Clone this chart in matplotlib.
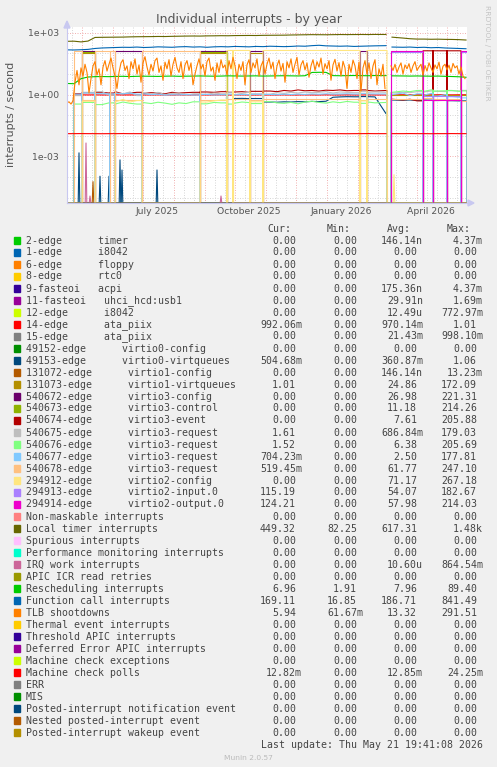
import numpy as np
import pandas as pd
import matplotlib
matplotlib.use("Agg")
import matplotlib.pyplot as plt
from matplotlib.patches import Rectangle, Polygon
from matplotlib.ticker import FixedLocator, NullFormatter

B = None      # use the weekly base values in this interval
G = np.nan    # no data (gap)

# ---- time base: days since 2025-04-16, 400 days shown ----
start = pd.Timestamp("2025-04-16")
n_days = 400
week_days = np.r_[np.arange(0, 315, 7), [319, 322, 325], np.arange(336, 400, 7)]
tlb_days = np.arange(0, 400, 2)

# reboot / device-switch boundaries (days)
bounds = [0, 7, 15, 28, 43, 48, 75, 133, 160, 166, 183, 196, 293, 300, 320,
          324, 356, 366, 380, 394, 400]

# ---- weekly series values ----
local_timer = [390, 395, 365, 400, 600, 610, 615, 620, 625, 640, 650, 655, 660, 670, 665,
               680, 690, 700, 705, 700, 715, 720, 730, 725, 740, 745, 750, 745, 760, 765,
               770, 775, 790, 800, 810, 820, 815, 810, 820, 830, 825, 830, 835, 830, 840,
               835, G, 620, 560, 520, 500, 500, 490, 495, 485, 480, 470, 450]
function_call = [150, 148, 152, 158, 175, 185, 190, 195, 200, 198, 205, 195, 200, 210, 205,
                 200, 210, 215, 205, 210, 200, 210, 215, 210, 220, 215, 210, 220, 215, 225,
                 220, 215, 220, 230, 225, 240, 250, 235, 230, 225, 230, 220, 225, 230, 235,
                 240, G, 205, 200, 205, 195, 200, 190, 195, 185, 180, 175, 170]
rescheduling = [3.5, 3.4, 6.0, 7.2, 7.5, 7.6, 7.5, 7.7, 7.8, 7.6, 7.8, 7.9, 7.8, 7.7, 7.9,
                8.0, 7.8, 7.9, 8.0, 8.1, 8.0, 7.9, 8.0, 8.2, 8.1, 8.0, 8.1, 8.2, 8.0, 8.1,
                8.2, 8.3, 8.2, 8.1, 8.3, 12.0, 12.2, 12.1, 8.4, 8.3, 8.4, 8.5, 8.4, 8.3, 8.5,
                8.4, G, 8.2, 8.1, 8.0, 8.1, 8.0, 7.9, 8.0, 7.8, 7.6, 7.4, 7.0]
mc_polls = [0.0128, 0.0128, 0.0129, 0.0128, 0.0128, 0.0127, 0.0128, 0.0128, 0.0129, 0.0128,
            0.0128, 0.0128, 0.0127, 0.0128, 0.0128, 0.0129, 0.0128, 0.0128, 0.0128, 0.0127,
            0.0128, 0.0128, 0.0129, 0.0128, 0.0128, 0.0128, 0.0127, 0.0128, 0.0128, 0.0129,
            0.0128, 0.0128, 0.0128, 0.0127, 0.0128, 0.0128, 0.0129, 0.0128, 0.0128, 0.0128,
            0.0127, 0.0128, 0.0128, 0.0129, 0.0128, 0.0128, G, 0.0128, 0.0128, 0.0129,
            0.0128, 0.0128, 0.0127, 0.0128, 0.0128, 0.0129, 0.0128, 0.0128]
ata_piix = [G, 0.97, 0.98, 0.97, 0.98, 0.97, 0.97, 0.98, 0.97, 0.97, 0.98, 0.97, 0.97, 0.98,
            0.97, 0.97, 0.98, 0.97, 0.97, 0.98, 0.97, 0.97, 0.98, 0.97, 0.97, 0.98, 0.97, 0.97,
            0.98, 0.97, 0.97, 0.98, 0.97, 0.97, 0.98, 0.97, 0.97, 0.98, 0.97, 0.97, 0.98, 0.97,
            0.97, 0.98, 0.97, 0.97, G, 0.99, 0.99, 0.98, 0.99, 0.99, 0.98, 0.99, 0.99, 0.98,
            0.99, 0.99]
dark_red = [1.2, 1.3, 1.1, 1.25, 1.15, 1.3, 1.2, 1.35, 1.1, 1.2, 1.3, 1.15, 1.25, 1.2, 1.1,
            1.3, 1.2, 1.25, 1.3, 1.2, 1.35, 1.3, 1.4, 1.3, 1.35, 1.4, 1.3, 1.45, 1.4, 1.5,
            1.4, 1.6, 1.5, 1.7, 1.55, 1.6, 1.5, 1.65, 1.6, 1.7, 1.55, 1.6, 1.7, 1.6, 1.5,
            1.6, G, 0.6, 0.55, 0.6, 0.5, 0.6, 0.55, 0.6, 0.5, 0.55, 0.5, 0.5]
grey_req = [1.1, 1.2, 0.9, 1.3, 1.0, 1.4, 0.95, 1.2, 1.1, 1.35, 0.9, 1.25, 1.05, 1.3, 1.0,
            1.15, 1.2, 0.95, 1.1, 1.3, 1.05, 1.2, 1.1, 1.25, 1.0, 1.15, 1.3, 1.1, 1.2, 1.05,
            1.25, 1.15, 1.3, 1.2, 1.35, 1.25, 1.3, 1.4, 1.2, 1.35, 1.3, 1.25, 1.4, 1.3, 1.35,
            1.3, G, 1.2, 1.3, 1.25, 1.4, 1.35, 1.5, 1.45, 1.4, 1.55, 1.5, 1.61]
green_req = [0.4, 0.45, 0.35, 0.42, 0.38, 0.33, 0.4, 0.36, 0.44, 0.38, 0.35, 0.41, 0.37, 0.43,
             0.39, 0.34, 0.4, 0.37, 0.45, 0.38, 0.36, 0.42, 0.4, 0.35, 0.39, 0.44, 0.41, 0.37,
             0.43, 0.46, 0.4, 0.38, 0.42, 0.36, 0.44, 0.48, 0.42, 0.39, 0.45, 0.41, 0.47, 0.43,
             0.38, 0.44, 0.4, 0.42, G, 1.3, 1.5, 1.4, 1.6, 1.45, 1.7, 1.5, 1.55, 1.6, 1.45, 1.52]
blue_req = [1.1, 1.15, 1.05, 1.2, 1.1, 1.12, 1.08, 1.15, 1.1, 1.18, 1.05, 1.1, 1.0, 1.05, 0.95,
            1.0, 0.98, 1.02, 0.96, 1.0, 1.03, 0.97, 1.0, 1.05, 0.98, 1.02, 1.0, 1.04, 0.99,
            1.03, 1.0, 1.05, 1.02, 1.06, 1.03, 1.08, 1.05, 1.1, 1.06, 1.08, 1.1, 1.07, 1.12,
            1.09, 1.1, 1.08, G, 1.0, 1.2, 0.9, 1.1, 0.95, 1.15, 0.85, 1.0, 0.8, 0.75, 0.7]
virtqueues0 = [0.3, 0.3, 0.3, 0.3, 0.3, 0.3, 0.3, 0.3, 0.3, 0.3, 0.3, 0.3, 0.3, 0.3, 0.3,
               0.3, 0.3, 0.3, 0.3, 0.3, 0.3, 0.3, 0.3, 0.3, 0.65, 0.66, 0.64, 0.65, 0.42, 0.44,
               0.43, 0.45, 0.44, 0.46, 0.45, 0.47, 0.46, 0.48, 0.75, 0.78, 0.8, 0.79, 0.81, 0.8,
               0.78, 0.12, G, 0.55, 0.54, 0.55, 0.53, 0.55, 0.54, 0.52, 0.53, 0.51, 0.5, 0.5]
v2_config = [0.5, 0.45, 0.55, 0.48, 0.6, 0.42, 0.5, 0.46, 0.58, 0.44, 0.52, 0.47, 0.55, 0.43,
             0.5, 0.56, 0.45, 0.52, 0.48, 0.6, 0.44, 0.5, 0.55, 0.46, 0.52, 0.48, 0.5, 0.45,
             0.55, 0.5, 0.47, 0.52, 0.49, 0.55, 0.46, 0.5, 0.53, 0.48, 0.5, 0.52, 0.47, 0.55,
             0.5, 0.48, 0.52, 0.5, G, 0.5, 0.5, 0.5, 0.5, 0.5, 0.5, 0.5, 0.5, 0.5, 0.5, 0.5]

# TLB shootdowns, every second day
tlb = [0.4, 0.45, 0.35, 0.5, 4, 15, 3, 20, 8, 30,
       12, 1.2, 6, 25, 40, 9, 18, 3, 22, 45,
       14, 30, 60, 20, 8, 2, 12, 35, 50, 15,
       25, 6, 40, 18, 55, 10, 28, 4, 35, 70,
       22, 9, 30, 14, 45, 60, 12, 25, 5, 38,
       18, 50, 8, 30, 65, 20, 12, 40, 6, 28,
       45, 15, 35, 3, 10, 25, 55, 18, 30, 8,
       40, 60, 14, 22, 5, 35, 12, 50, 20, 28,
       9, 45, 18, 65, 25, 6, 30, 15, 40, 3,
       28, 50, 12, 35, 20, 55, 8, 25, 42, 10,
       30, 60, 18, 38, 6, 25, 48, 14, 33, 4,
       40, 20, 55, 12, 30, 65, 9, 28, 45, 16,
       35, 7, 25, 50, 15, 40, 22, 60, 10, 32,
       18, 45, 5, 28, 52, 14, 36, 8, 42, 20,
       2, 30, 12, 48, 25, 6, 38, 1.5, 20, 45,
       10, 35, 6, 25, 50, 3, 18, 8, 30, 2,
       G, G, 25, 15, 30, 12, 22, 35, 10, 28,
       18, 32, 12, 25, 40, 15, 22, 30, 9, 26,
       14, 35, 20, 12, 28, 18, 38, 10, 24, 30,
       16, 27, 12, 33, 20, 25, 10, 22, 8, 6]

# ---- per-interval levels (one entry per interval between bounds) ----
lv_virtqueues0 = [0, 0, 0, 0, 0, 0, 0, 0, 0, B, B, B, B, B, G, B, B, B, B, B]
lv_v1_queues = [0, 0, 110, 0, 0, 0, 0, 110, 0, 0, 110, 0, 0, 0, G, 1.0, 1.0, 1.0, 1.0, 1.0]
lv_v3_config = [0, 0, 125, 0, 0, 125, 0, 125, 0, 0, 125, 0, 125, 0, G, 0, 0, 0, 0, 0]
lv_v3_control = [0, 0, 120, 0, 0, 0, 0, 120, 0, 0, 0, 0, 0, 0, G, 0, 0, 0, 0, 0]
lv_v3_event = [0, B, B, B, B, B, B, B, B, B, B, B, B, B, G, B, 135, 135, 135, 0]
lv_v3_request = [0, B, B, B, B, B, B, B, B, B, B, B, B, B, G, B, B, B, B, B]
lv_v3_req4 = [0, 135, 0.55, 135, 135, 0.55, 135, 0.55, 0.6, 0.6, 0.55, 0.6, 0.55, 0.6, G,
              0.6, 0.7, 0.65, 0.6, 0.52]
lv_v2_config = [0, 0, B, 0, 0, B, 0, B, 140, 140, B, 140, B, 140, G, 0, 0, 0, 0, 0]
lv_v2_input = [0, 0, 0, 0, 0, 0, 0, 0, 0, 0, 0, 0, 0, 0, G, 115, 0.9, 0.9, 0.9, 115]
lv_v2_output = [0, 0, 0, 0, 0, 0, 0, 0, 0, 0, 0, 0, 0, 0, G, 130, 0.55, 0.55, 0.55, 130]

# ---- small spikes near the bottom (day, value) ----
spk_virtqueues0 = ([12, 33, 42, 53, 55, 90], [1.5e-3, 1.1e-4, 1.1e-4, 6.8e-4, 2.2e-4, 2.2e-4])
spk_irq_work = ([19, 23, 154], [4.5e-3, 1.2e-5, 1.2e-5])
spk_v1_config = ([26], [6e-5])
spk_v2_config = ([327], [1.3e-4])

# ---- legend ----
labels = ["2-edge      timer", "1-edge      i8042", "6-edge      floppy", "8-edge      rtc0",
          "9-fasteoi   acpi", "11-fasteoi   uhci_hcd:usb1", "12-edge      i8042",
          "14-edge      ata_piix", "15-edge      ata_piix", "49152-edge      virtio0-config",
          "49153-edge      virtio0-virtqueues", "131072-edge      virtio1-config",
          "131073-edge      virtio1-virtqueues", "540672-edge      virtio3-config",
          "540673-edge      virtio3-control", "540674-edge      virtio3-event",
          "540675-edge      virtio3-request", "540676-edge      virtio3-request",
          "540677-edge      virtio3-request", "540678-edge      virtio3-request",
          "294912-edge      virtio2-config", "294913-edge      virtio2-input.0",
          "294914-edge      virtio2-output.0", "Non-maskable interrupts",
          "Local timer interrupts", "Spurious interrupts", "Performance monitoring interrupts",
          "IRQ work interrupts", "APIC ICR read retries", "Rescheduling interrupts",
          "Function call interrupts", "TLB shootdowns", "Thermal event interrupts",
          "Threshold APIC interrupts", "Deferred Error APIC interrupts",
          "Machine check exceptions", "Machine check polls", "ERR", "MIS",
          "Posted-interrupt notification event", "Nested posted-interrupt event",
          "Posted-interrupt wakeup event"]
colors = ["#00CC00", "#0066B3", "#FF8000", "#FFCC00", "#330099", "#990099", "#CCFF00",
          "#FF0000", "#808080", "#008F00", "#00487D", "#B35A00", "#B38F00", "#6B006B",
          "#8FB300", "#B30000", "#BEBEBE", "#80FF80", "#80C9FF", "#FFC080", "#FFE680",
          "#AA80FF", "#EE00CC", "#FF8080", "#666600", "#FFBFFF", "#00FFCC", "#CC6699",
          "#999900", "#00CC00", "#0066B3", "#FF8000", "#FFCC00", "#330099", "#990099",
          "#CCFF00", "#FF0000", "#808080", "#008F00", "#00487D", "#B35A00", "#B38F00"]
cur = ["0.00", "0.00", "0.00", "0.00", "0.00", "0.00", "0.00", "992.06m", "0.00", "0.00",
       "504.68m", "0.00", "1.01", "0.00", "0.00", "0.00", "1.61", "1.52", "704.23m", "519.45m",
       "0.00", "115.19", "124.21", "0.00", "449.32", "0.00", "0.00", "0.00", "0.00", "6.96",
       "169.11", "5.94", "0.00", "0.00", "0.00", "0.00", "12.82m", "0.00", "0.00", "0.00",
       "0.00", "0.00"]
mins = ["0.00"] * 24 + ["82.25", "0.00", "0.00", "0.00", "0.00", "1.91", "16.85", "61.67m"] + ["0.00"] * 10
avg = ["146.14n", "0.00", "0.00", "0.00", "175.36n", "29.91n", "12.49u", "970.14m", "21.43m",
       "0.00", "360.87m", "146.14n", "24.86", "26.98", "11.18", "7.61", "686.84m", "6.38",
       "2.50", "61.77", "71.17", "54.07", "57.98", "0.00", "617.31", "0.00", "0.00", "10.60u",
       "0.00", "7.96", "186.71", "13.32", "0.00", "0.00", "0.00", "0.00", "12.85m", "0.00",
       "0.00", "0.00", "0.00", "0.00"]
mx = ["4.37m", "0.00", "0.00", "0.00", "4.37m", "1.69m", "772.97m", "1.01", "998.10m", "0.00",
      "1.06", "13.23m", "172.09", "221.31", "214.26", "205.88", "179.03", "205.69", "177.81",
      "247.10", "267.18", "182.67", "214.03", "0.00", "1.48k", "0.00", "0.00", "864.54m",
      "0.00", "89.40", "841.49", "291.51", "0.00", "0.00", "0.00", "0.00", "24.25m", "0.00",
      "0.00", "0.00", "0.00", "0.00"]

W, H = 497, 767
y_lo, y_hi = 5.5e-6, 1930


def fx(x):
    return x / W


def fy(y):
    return 1 - y / H


def build(levels, base):
    base = np.asarray(base, dtype=float)
    xs, ys = [], []
    for (a, b), lev in zip(zip(bounds[:-1], bounds[1:]), levels):
        if lev is None:
            inside = (week_days > a) & (week_days < b)
            if inside.any():
                dd, vv = list(week_days[inside]), list(base[inside])
            else:
                k = np.argmin(np.abs(week_days - (a + b) / 2))
                dd, vv = [], [base[k]]
            xs += [a, a] + dd + [b, b]
            ys += [0, vv[0]] + (vv if dd else []) + [vv[-1], 0]
        elif np.isnan(lev):
            xs += [a]
            ys += [np.nan]
        else:
            xs += [a, a, b, b]
            ys += [0, lev, lev, 0]
    return np.array(xs, float), np.array(ys, float)


direct = {7: (week_days, ata_piix), 24: (week_days, local_timer),
          29: (week_days, rescheduling), 30: (week_days, function_call),
          31: (tlb_days, tlb), 36: (week_days, mc_polls)}
leveled = {10: (lv_virtqueues0, virtqueues0), 12: (lv_v1_queues, None),
           13: (lv_v3_config, None), 14: (lv_v3_control, None),
           15: (lv_v3_event, dark_red), 16: (lv_v3_request, grey_req),
           17: (lv_v3_request, green_req), 18: (lv_v3_request, blue_req),
           19: (lv_v3_req4, None), 20: (lv_v2_config, v2_config),
           21: (lv_v2_input, None), 22: (lv_v2_output, None)}
spikes = {10: spk_virtqueues0, 27: spk_irq_work, 11: spk_v1_config, 20: spk_v2_config}

fig = plt.figure(figsize=(W / 100, H / 100), dpi=100, facecolor="#F0F0F0")
ax = fig.add_axes([fx(67), fy(203), 400 / W, 176 / H])
ax.set_facecolor("white")
ax.set_yscale("log")
ax.set_ylim(y_lo, y_hi)
ax.set_xlim(0, n_days)

# grid (dotted, like rrdtool)
red_grid, grey_grid = "#F2B4B4", "#D8D8D8"
for d in pd.date_range("2025-04-01", "2026-05-31", freq="D"):
    x = (d - start).days
    if 0 < x < n_days:
        if d.day == 1:
            ax.axvline(x, color=red_grid, lw=0.72, ls=(0, (1, 1.5)), zorder=1)
        elif d.day in (11, 21):
            ax.axvline(x, color=grey_grid, lw=0.72, ls=(0, (1, 1.5)), zorder=0.5)
ax.set_yticks([1e-3, 1, 1e3])
ax.set_yticklabels(["1e-03", "1e+00", "1e+03"])
ax.yaxis.set_minor_locator(FixedLocator([10.0 ** k for k in range(-5, 4)]))
ax.yaxis.set_minor_formatter(NullFormatter())
ax.grid(True, which="major", axis="y", color=red_grid, lw=0.72, ls=(0, (1, 1.5)), zorder=1)
ax.grid(True, which="minor", axis="y", color=grey_grid, lw=0.72, ls=(0, (1, 1.5)), zorder=0.5)
ax.set_axisbelow(True)

lab_dates = ["2025-07-15", "2025-10-15", "2026-01-15", "2026-04-15"]
ax.set_xticks([(pd.Timestamp(d) - start).days for d in lab_dates])
ax.set_xticklabels(["July 2025", "October 2025", "January 2026", "April 2026"])
ax.tick_params(axis="both", which="both", length=0, labelsize=6.7, colors="#555555")
ax.tick_params(axis="y", pad=5.8)
ax.tick_params(axis="x", pad=3.2)
for s in ["top", "right"]:
    ax.spines[s].set_visible(False)
for s in ["left", "bottom"]:
    ax.spines[s].set_color("#C8C8F0")
    ax.spines[s].set_linewidth(0.8)

# data
for i, c in enumerate(colors):
    if i in direct:
        x, y = direct[i]
    elif i in leveled:
        lv, base = leveled[i]
        x, y = build(lv, base if base is not None else np.zeros(len(week_days)))
    else:
        x, y = [0, n_days], [0, 0]
    y = np.asarray(y, float)
    y = np.where(y == 0, y_lo, y)
    ax.plot(x, y, color=c, lw=0.8, zorder=2 + i * 0.01)
    if i in spikes:
        for d, v in zip(*spikes[i]):
            ax.plot([d - 0.8, d, d + 0.8], [y_lo, v, y_lo], color=c, lw=0.8, zorder=2 + i * 0.01)

# axis arrows
arrow_c = "#C8C8F0"
fig.add_artist(Polygon([[fx(468), fy(200)], [fx(474), fy(203)], [fx(468), fy(206)]],
                       closed=True, color=arrow_c, transform=fig.transFigure))
fig.add_artist(Polygon([[fx(64), fy(28)], [fx(67), fy(21)], [fx(70), fy(28)]],
                       closed=True, color=arrow_c, transform=fig.transFigure))

# titles
fig.text(fx(248.5), fy(19.3), "Individual interrupts - by year", ha="center", va="center",
         fontsize=9, color="#555555", family="DejaVu Sans")
fig.text(fx(11), fy(114.5), "interrupts / second", rotation=90, ha="center", va="center",
         fontsize=8, color="#555555")
fig.text(fx(487), fy(53), "RRDTOOL / TOBI OETIKER", rotation=270, ha="center", va="center",
         fontsize=5.4, color="#C4C4C4")

# legend
mono = dict(family="DejaVu Sans Mono", fontsize=7.15, color="#444444", va="baseline")
for head, hx in zip(["Cur:", "Min:", "Avg:", "Max:"], [267, 327, 387, 447]):
    fig.text(fx(hx), fy(231.5), head, ha="left", **mono)
col_right = [302, 363, 423, 483]
for i, (lab, c) in enumerate(zip(labels, colors)):
    base_y = 243.5 + 12 * i
    fig.add_artist(Rectangle((fx(14), fy(base_y + 0.2)), 6.3 / W, 6.3 / H, color=c,
                             transform=fig.transFigure))
    fig.text(fx(26), fy(base_y), lab, ha="left", **mono)
    for val, xr in zip([cur[i], mins[i], avg[i], mx[i]], col_right):
        if val[-1].isdigit():
            xr -= 6
        fig.text(fx(xr), fy(base_y), val, ha="right", **mono)

fig.text(fx(483), fy(747.5), "Last update: Thu May 21 19:41:08 2026", ha="right", **mono)
fig.text(fx(248), fy(760), "Munin 2.0.57", ha="center", va="baseline", fontsize=5.4,
         color="#BBBBBB")

fig.savefig("out.png", dpi=100, facecolor=fig.get_facecolor())
